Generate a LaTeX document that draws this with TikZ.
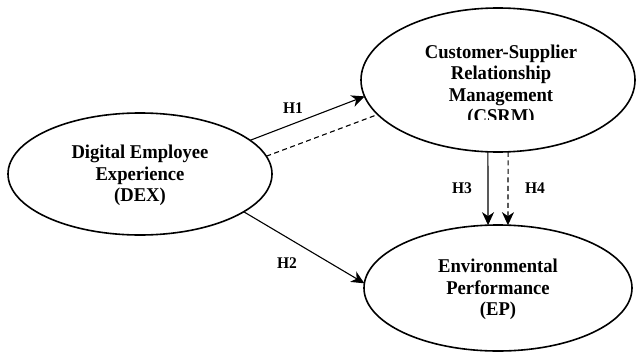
\documentclass[tikz,border=0pt]{standalone}
\usepackage{fontspec}
\usepackage{graphicx}
\setmainfont{Liberation Serif}
\usetikzlibrary{shapes.geometric,arrows.meta}
\newcommand{\tallstack}[1]{\scalebox{1}[1.05]{\begin{tabular}{@{}c@{}}#1\end{tabular}}}
\begin{document}
\begin{tikzpicture}[x=1pt,y=-1pt,
  construct/.style={draw, ellipse, line width=1.6pt, inner sep=0pt, outer sep=0pt},
  ctext/.style={font=\fontsize{18.6}{20.5}\selectfont\bfseries, inner sep=0pt},
  hlabel/.style={font=\fontsize{15.5}{17}\selectfont\bfseries, inner sep=0pt},
  solidarrow/.style={line width=1.1pt, -{Stealth[length=13pt,width=12pt,inset=4pt]}},
  dashedline/.style={line width=1.1pt, dash pattern=on 5pt off 3.5pt},
  dashedarrow/.style={line width=1.1pt, dash pattern=on 5pt off 3.5pt, -{Stealth[length=13pt,width=12pt,inset=4pt]}}
]
\useasboundingbox (0,0) rectangle (636,353);
\fill[white] (0,0) rectangle (636,353);

\node[construct, minimum width=264pt, minimum height=122pt] (dex) at (140,174) {};
\node[construct, minimum width=274pt, minimum height=144pt] (csrm) at (498,80) {};
\node[construct, minimum width=268pt, minimum height=126pt] (ep) at (498,288) {};

\node[ctext] (dextext) at (140,176) {\tallstack{Digital Employee\\Experience\\(DEX)}};
\begin{scope}
  \clip (360,0) rectangle (636,119.5);
  \node[ctext] (csrmtext) at (501,86) {\tallstack{Customer-Supplier\\Relationship\\Management\\(CSRM)}};
\end{scope}
\node[ctext] (eptext) at (498,290) {\tallstack{Environmental\\Performance\\(EP)}};

\draw[solidarrow] (dex.17.4) -- (csrm.187.2);
\draw[dashedline] (dex.8) -- (csrm.196);
\draw[solidarrow] (dex.-20.4) -- (ep.178.7);
\draw[solidarrow] (csrm.-98.7) -- (ep.99.9);
\draw[dashedarrow] (csrm.-82.1) -- (ep.81);

\node[hlabel] (h1) at (293,108) {\scalebox{1}[1.05]{H1}};
\node[hlabel] (h2) at (287,263) {\scalebox{1}[1.05]{H2}};
\node[hlabel] (h3) at (462,188) {\scalebox{1}[1.05]{H3}};
\node[hlabel] (h4) at (535,188) {\scalebox{1}[1.05]{H4}};
\end{tikzpicture}
\end{document}
